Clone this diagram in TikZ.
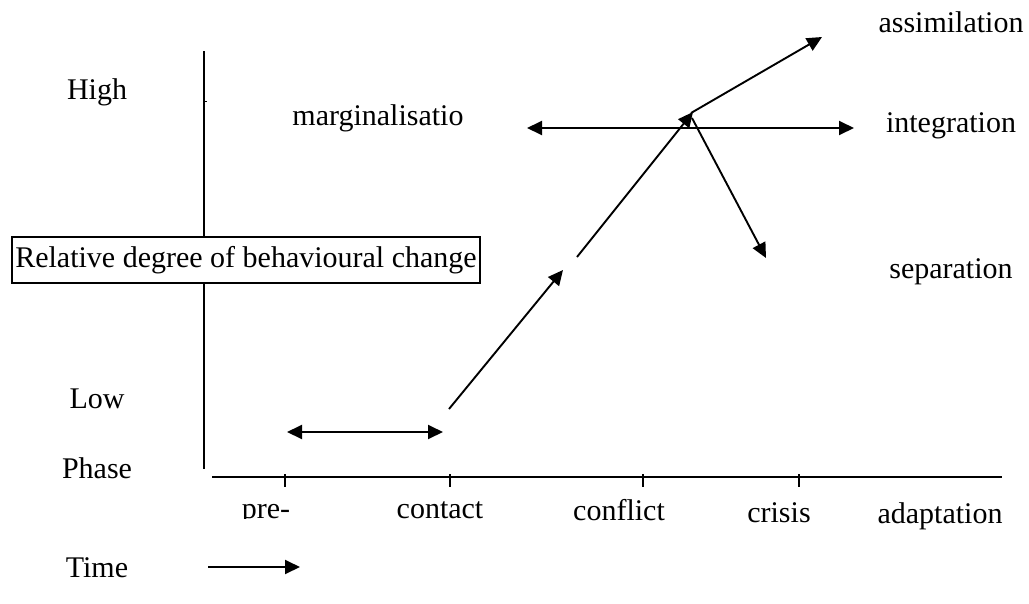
\documentclass[tikz,border=0pt]{standalone}
\usepackage{fontspec}
\setmainfont{Liberation Serif}
\usetikzlibrary{arrows.meta}
\begin{document}
\begin{tikzpicture}[x=1pt,y=-1pt,
  lbl/.style={inner sep=0pt,anchor=base,font=\fontsize{30}{35}\selectfont},
  ln/.style={line width=1.9pt},
  arr/.style={ln,-{Triangle[length=15pt,width=14pt]}},
  darr/.style={ln,{Triangle[length=15pt,width=14pt]}-{Triangle[length=15pt,width=14pt]}},
  tick/.style={line width=1.5pt}]
\useasboundingbox (0,0) rectangle (1029,603);
% axes
\coordinate (vtop) at (204,51);
\coordinate (vbot) at (204,469);
\draw[ln] (vtop) -- (vbot);
\draw[line width=1pt] (204,101) -- (207,101);
\coordinate (hl) at (212,477);
\coordinate (hr) at (1002,477);
\draw[ln] (hl) -- (hr);
\foreach \x/\n in {285/t1,450/t2,643/t3,799/t4}{
  \coordinate (\n a) at (\x,474);
  \coordinate (\n b) at (\x,487);
  \draw[tick] (\n a) -- (\n b);
}
% y labels
\node[lbl] (high) at (97,99) {High};
\node[lbl] (low) at (97,408) {Low};
\node[lbl] (phase) at (97,478) {Phase};
\node[lbl] (time) at (97,577) {Time};
\node[draw,line width=1.2pt,fill=white,minimum width=468pt,minimum height=46pt,inner sep=0pt,
  font=\fontsize{30}{35}\selectfont] (rel) at (246,260) {Relative degree of behavioural change};
% phase labels
\begin{scope}
\clip (230,495) rectangle (300,518);
\node[lbl] (pre) at (266,518) {pre-};
\end{scope}
\node[lbl] (contact) at (440,518) {contact};
\node[lbl] (conflict) at (619,520) {conflict};
\node[lbl] (crisis) at (779,522) {crisis};
\node[lbl] (adapt) at (940,523) {adaptation};
% outcome labels
\node[lbl] (assim) at (951,32) {assimilation};
\node[lbl] (integ) at (951,132) {integration};
\node[lbl] (sep) at (951,278) {separation};
\node[lbl] (marg) at (378,125) {marginalisatio};
% arrows
\coordinate (p1) at (287,432);
\coordinate (p2) at (443,432);
\draw[darr] (p1) -- (p2);
\coordinate (r0) at (449,409);
\coordinate (r1) at (563,270);
\draw[arr] (r0) -- (r1);
\coordinate (r2) at (577,257);
\coordinate (hub) at (693,112);
\draw[arr] (r2) -- (hub);
\coordinate (m1) at (527,128);
\coordinate (m2) at (854,128);
\draw[darr] (m1) -- (m2);
\coordinate (as) at (822,37);
\draw[arr] (691,113) -- (as);
\coordinate (se) at (766,258);
\draw[arr] (692,118) -- (se);
\coordinate (ta) at (208,567);
\coordinate (tb) at (300,567);
\draw[arr] (ta) -- (tb);
\end{tikzpicture}
\end{document}
